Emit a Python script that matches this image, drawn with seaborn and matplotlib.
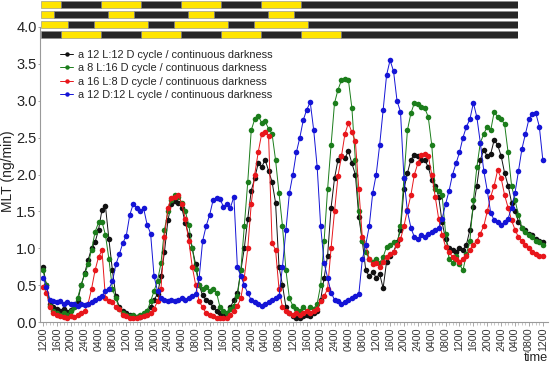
import numpy as np
import pandas as pd
import matplotlib
matplotlib.use("Agg")
import matplotlib.pyplot as plt
import seaborn as sns
from matplotlib.lines import Line2D

# ---------------- data ----------------
hours = list(range(0, 145))  # hours since 12:00 of day 1

black_12L12D = [
    0.75, 0.5, 0.25, 0.2, 0.17, 0.15, 0.18, 0.14, 0.16, 0.2,
    0.28, 0.5, 0.66, 0.84, 1.0, 1.08, 1.25, 1.52, 1.57, 1.12,
    0.7, 0.35, 0.2, 0.15, 0.12, 0.1, 0.08, 0.07, 0.07, 0.1,
    0.15, 0.2, 0.3, 0.38, 0.62, 0.95, 1.38, 1.6, 1.64, 1.62,
    1.55, 1.34, 1.18, 1.0, 0.78, 0.5, 0.36, 0.3, 0.27, 0.2,
    0.15, 0.12, 0.1, 0.12, 0.2, 0.3, 0.39, 0.7, 1.0, 1.4,
    1.78, 1.95, 2.15, 2.1, 2.2, 2.05, 1.9, 1.62, 0.75, 0.5,
    0.2, 0.12, 0.08, 0.06, 0.05, 0.08, 0.1, 0.08, 0.12, 0.15,
    0.3, 0.6, 0.9, 1.55, 1.95, 2.2, 2.25, 2.22, 2.32, 2.15,
    2.0, 1.42, 1.1, 0.7, 0.62, 0.68, 0.6, 0.65, 0.46, 0.82,
    0.9, 0.95, 1.08, 1.25, 1.8, 2.02, 2.2, 2.27, 2.25, 2.2,
    2.2, 2.1, 1.93, 1.85, 1.7, 1.35, 1.12, 1.0, 0.98, 0.95,
    1.0, 0.97, 1.05, 1.25, 1.56, 1.85, 2.2, 2.33, 2.25, 2.28,
    2.47, 2.4, 2.25, 2.02, 1.85, 1.62, 1.5, 1.36, 1.28, 1.25,
    1.2, 1.18, 1.12, 1.1, 1.08]

green_8L16D = [
    0.7, 0.5, 0.22, 0.15, 0.12, 0.1, 0.12, 0.1, 0.15, 0.2,
    0.33, 0.5, 0.65, 0.78, 0.98, 1.22, 1.35, 1.36, 1.18, 0.85,
    0.45, 0.32, 0.18, 0.12, 0.1, 0.08, 0.1, 0.07, 0.1, 0.12,
    0.15, 0.28, 0.42, 0.56, 0.8, 1.25, 1.5, 1.65, 1.72, 1.7,
    1.62, 1.5, 1.32, 1.0, 0.72, 0.5, 0.45, 0.48, 0.42, 0.45,
    0.4, 0.2, 0.15, 0.12, 0.18, 0.22, 0.35, 0.7, 1.3, 1.9,
    2.6, 2.75, 2.8, 2.7, 2.72, 2.62, 2.55, 2.2, 1.75, 1.3,
    0.7, 0.32, 0.22, 0.18, 0.15, 0.2, 0.15, 0.2, 0.18, 0.25,
    0.5, 1.1, 1.8, 2.4, 2.97, 3.15, 3.28, 3.3, 3.28, 2.9,
    2.2, 1.5, 1.1, 0.95, 0.85, 0.82, 0.85, 0.8, 0.88, 1.02,
    1.05, 1.08, 1.05, 1.3, 1.95, 2.6, 2.83, 2.97, 2.95, 2.92,
    2.9, 2.78, 2.4, 1.8, 1.78, 1.72, 1.2, 0.85, 0.8, 0.9,
    0.78, 0.7, 0.92, 1.1, 1.65, 2.1, 2.43, 2.55, 2.65, 2.6,
    2.85, 2.78, 2.75, 2.68, 2.3, 1.85, 1.65, 1.45, 1.28, 1.22,
    1.18, 1.15, 1.1, 1.08, 1.05]

red_16L8D = [
    0.48, 0.4, 0.2, 0.12, 0.1, 0.08, 0.07, 0.06, 0.08, 0.07,
    0.1, 0.12, 0.15, 0.25, 0.45, 0.7, 0.88, 0.97, 0.32, 0.29,
    0.27, 0.2, 0.17, 0.1, 0.08, 0.06, 0.05, 0.05, 0.07, 0.08,
    0.09, 0.12, 0.18, 0.28, 0.45, 1.15, 1.55, 1.68, 1.7, 1.72,
    1.6, 1.4, 1.1, 0.75, 0.5, 0.28, 0.2, 0.12, 0.1, 0.08,
    0.06, 0.05, 0.06, 0.05, 0.1, 0.15, 0.22, 0.32, 0.6, 1.0,
    1.6, 2.0, 2.3, 2.55, 2.58, 2.52, 1.07, 0.98, 0.45, 0.2,
    0.15, 0.12, 0.1, 0.12, 0.1, 0.12, 0.15, 0.12, 0.15, 0.18,
    0.28, 0.35, 0.45, 1.0, 1.5, 1.98, 2.25, 2.55, 2.7, 2.57,
    2.45, 1.8, 1.15, 1.05, 0.85, 0.78, 0.8, 0.75, 0.82, 0.88,
    0.92, 0.95, 1.05, 1.12, 1.3, 1.52, 1.72, 2.0, 2.15, 2.27,
    2.28, 2.25, 2.0, 1.7, 1.4, 1.18, 1.02, 0.95, 0.88, 0.85,
    0.82, 0.85, 0.9, 0.98, 1.05, 1.1, 1.2, 1.3, 1.5, 1.7,
    1.85, 2.06, 1.95, 1.72, 1.55, 1.38, 1.25, 1.15, 1.1, 1.05,
    1.0, 0.95, 0.92, 0.9, 0.9]

blue_12D12L = [
    0.6, 0.48, 0.3, 0.28, 0.27, 0.28, 0.25, 0.27, 0.25, 0.24,
    0.22, 0.24, 0.23, 0.25, 0.27, 0.3, 0.33, 0.35, 0.42, 0.45,
    0.55, 0.78, 0.92, 1.07, 1.17, 1.45, 1.6, 1.55, 1.5, 1.54,
    1.32, 1.2, 0.62, 0.42, 0.33, 0.3, 0.28, 0.3, 0.28, 0.3,
    0.32, 0.3, 0.33, 0.35, 0.38, 0.6, 1.1, 1.3, 1.45, 1.65,
    1.68, 1.67, 1.56, 1.6, 1.55, 1.7, 0.75, 0.62, 0.5, 0.39,
    0.3, 0.27, 0.25, 0.22, 0.25, 0.27, 0.3, 0.33, 0.35, 0.75,
    1.25, 1.75, 2.0, 2.3, 2.5, 2.74, 2.88, 2.98, 2.6, 2.1,
    1.3, 0.8, 0.6, 0.4, 0.3, 0.28, 0.25, 0.27, 0.3, 0.32,
    0.35, 0.38, 0.85, 1.05, 1.3, 1.75, 2.0, 2.4, 2.88, 3.35,
    3.55, 3.4, 3.0, 2.85, 1.95, 1.5, 1.28, 1.15, 1.12, 1.18,
    1.15, 1.2, 1.22, 1.25, 1.28, 1.4, 1.6, 1.78, 2.0, 2.15,
    2.3, 2.5, 2.65, 2.75, 2.97, 2.78, 2.43, 2.05, 1.78, 1.48,
    1.38, 1.35, 1.32, 1.35, 1.4, 1.55, 1.75, 2.05, 2.35, 2.55,
    2.75, 2.82, 2.83, 2.65, 2.2]

series_names = [
    "a 12 L:12 D cycle / continuous darkness",
    "a 8 L:16 D cycle / continuous darkness",
    "a 16 L:8 D cycle / continuous darkness",
    "a 12 D:12 L cycle / continuous darkness",
]
series_values = [black_12L12D, green_8L16D, red_16L8D, blue_12D12L]
series_colors = ["#111111", "#1b7d1b", "#e8161b", "#1414d6"]

# light schedules for the top bars (clock hours), start at 12:00
start_clock = 12
lights_on = [6, 8, 4, 18]
lights_off = [18, 16, 20, 6]
constant_dark_from = [78, 76, 80, 90]   # hours after start
bar_span_hours = 143.1

tick_hours = list(range(0, 145, 4))
tick_labels = ["1200", "1600", "2000", "2400", "0400", "0800"] * 6 + ["1200"]
y_ticks = [0.0, 0.5, 1.0, 1.5, 2.0, 2.5, 3.0, 3.5, 4.0]

# ---------------- plot ----------------
sns.set_theme(style="white")
plt.rcParams["font.family"] = ["Liberation Sans", "DejaVu Sans"]

W, H = 550, 366
fig = plt.figure(figsize=(W / 100, H / 100), dpi=100)
ax = fig.add_axes([40 / W, 44 / H, 508 / W, 295 / H])

for name, vals, col in zip(series_names, series_values, series_colors):
    df = pd.DataFrame({"hour": hours, "mlt": vals})
    sns.lineplot(data=df, x="hour", y="mlt", ax=ax, color=col, marker="o",
                 markersize=4.0, markeredgewidth=0, linewidth=0.7,
                 estimator=None, legend=False)

ax.set_xlim(-0.86, 145.5)
ax.set_ylim(0, 4.0)
ax.set_xticks(tick_hours)
ax.set_xticklabels(tick_labels)
ax.set_xticks(hours, minor=True)
ax.set_yticks(y_ticks)
ax.set_yticklabels([f"{v:.1f}" for v in y_ticks])

for side in ["top", "right"]:
    ax.spines[side].set_visible(False)
for side in ["left", "bottom"]:
    ax.spines[side].set_color("#9a9a9a")
    ax.spines[side].set_linewidth(0.8)

ax.tick_params(axis="x", which="major", direction="out", length=3, width=0.6,
               color="#9a9a9a", labelsize=7.7, labelrotation=90, pad=1.2,
               labelcolor="#333333", bottom=True)
ax.tick_params(axis="x", which="minor", direction="out", length=2, width=0.5,
               color="#b0b0b0", bottom=True)
ax.tick_params(axis="y", which="major", direction="out", length=1.5, width=0.6,
               color="#9a9a9a", labelsize=10.5, pad=1, labelcolor="#222222", left=True)

ax.set_xlabel("time", fontsize=9.2, loc="right", labelpad=0.5, color="#222222")
ax.set_ylabel("MLT (ng/min)", fontsize=10, color="#222222")
ax.yaxis.set_label_coords(-0.05, 0.51)

handles = [Line2D([0], [0], color=c, marker="o", markersize=3.2, markeredgewidth=0,
                  linewidth=0.7) for c in series_colors]
ax.legend(handles, series_names, loc="upper left",
          bbox_to_anchor=(60 / W, 1 - 50 / H), bbox_transform=fig.transFigure,
          frameon=False, fontsize=7.9, handlelength=1.2, handletextpad=0.45,
          labelspacing=0.3, borderpad=0, borderaxespad=0)

# top light/dark bars
bax = fig.add_axes([41 / W, 1 - 38.8 / H, 477 / W, 38.3 / H])
bax.set_xlim(0, bar_span_hours)
bax.set_ylim(38.8, 0.5)
bax.axis("off")
for i in range(4):
    segs_light, segs_dark = [], []
    cur_state, seg_start = None, 0
    for h in range(constant_dark_from[i]):
        clock = (start_clock + h) % 24
        on, off = lights_on[i], lights_off[i]
        light = (on <= clock < off) if on < off else (clock >= on or clock < off)
        if cur_state is None:
            cur_state, seg_start = light, h
        elif light != cur_state:
            (segs_light if cur_state else segs_dark).append((seg_start, h - seg_start))
            cur_state, seg_start = light, h
    (segs_light if cur_state else segs_dark).append((seg_start, constant_dark_from[i] - seg_start))
    segs_dark.append((constant_dark_from[i], bar_span_hours - constant_dark_from[i]))
    y0 = 1 + 10 * i
    bax.broken_barh(segs_light, (y0, 6.8), facecolors="#ffe400", edgecolor="#8a8a8a", linewidth=0.4)
    bax.broken_barh(segs_dark, (y0, 6.8), facecolors="#262626", edgecolor="#8a8a8a", linewidth=0.4)

fig.savefig("out.png", dpi=100)
